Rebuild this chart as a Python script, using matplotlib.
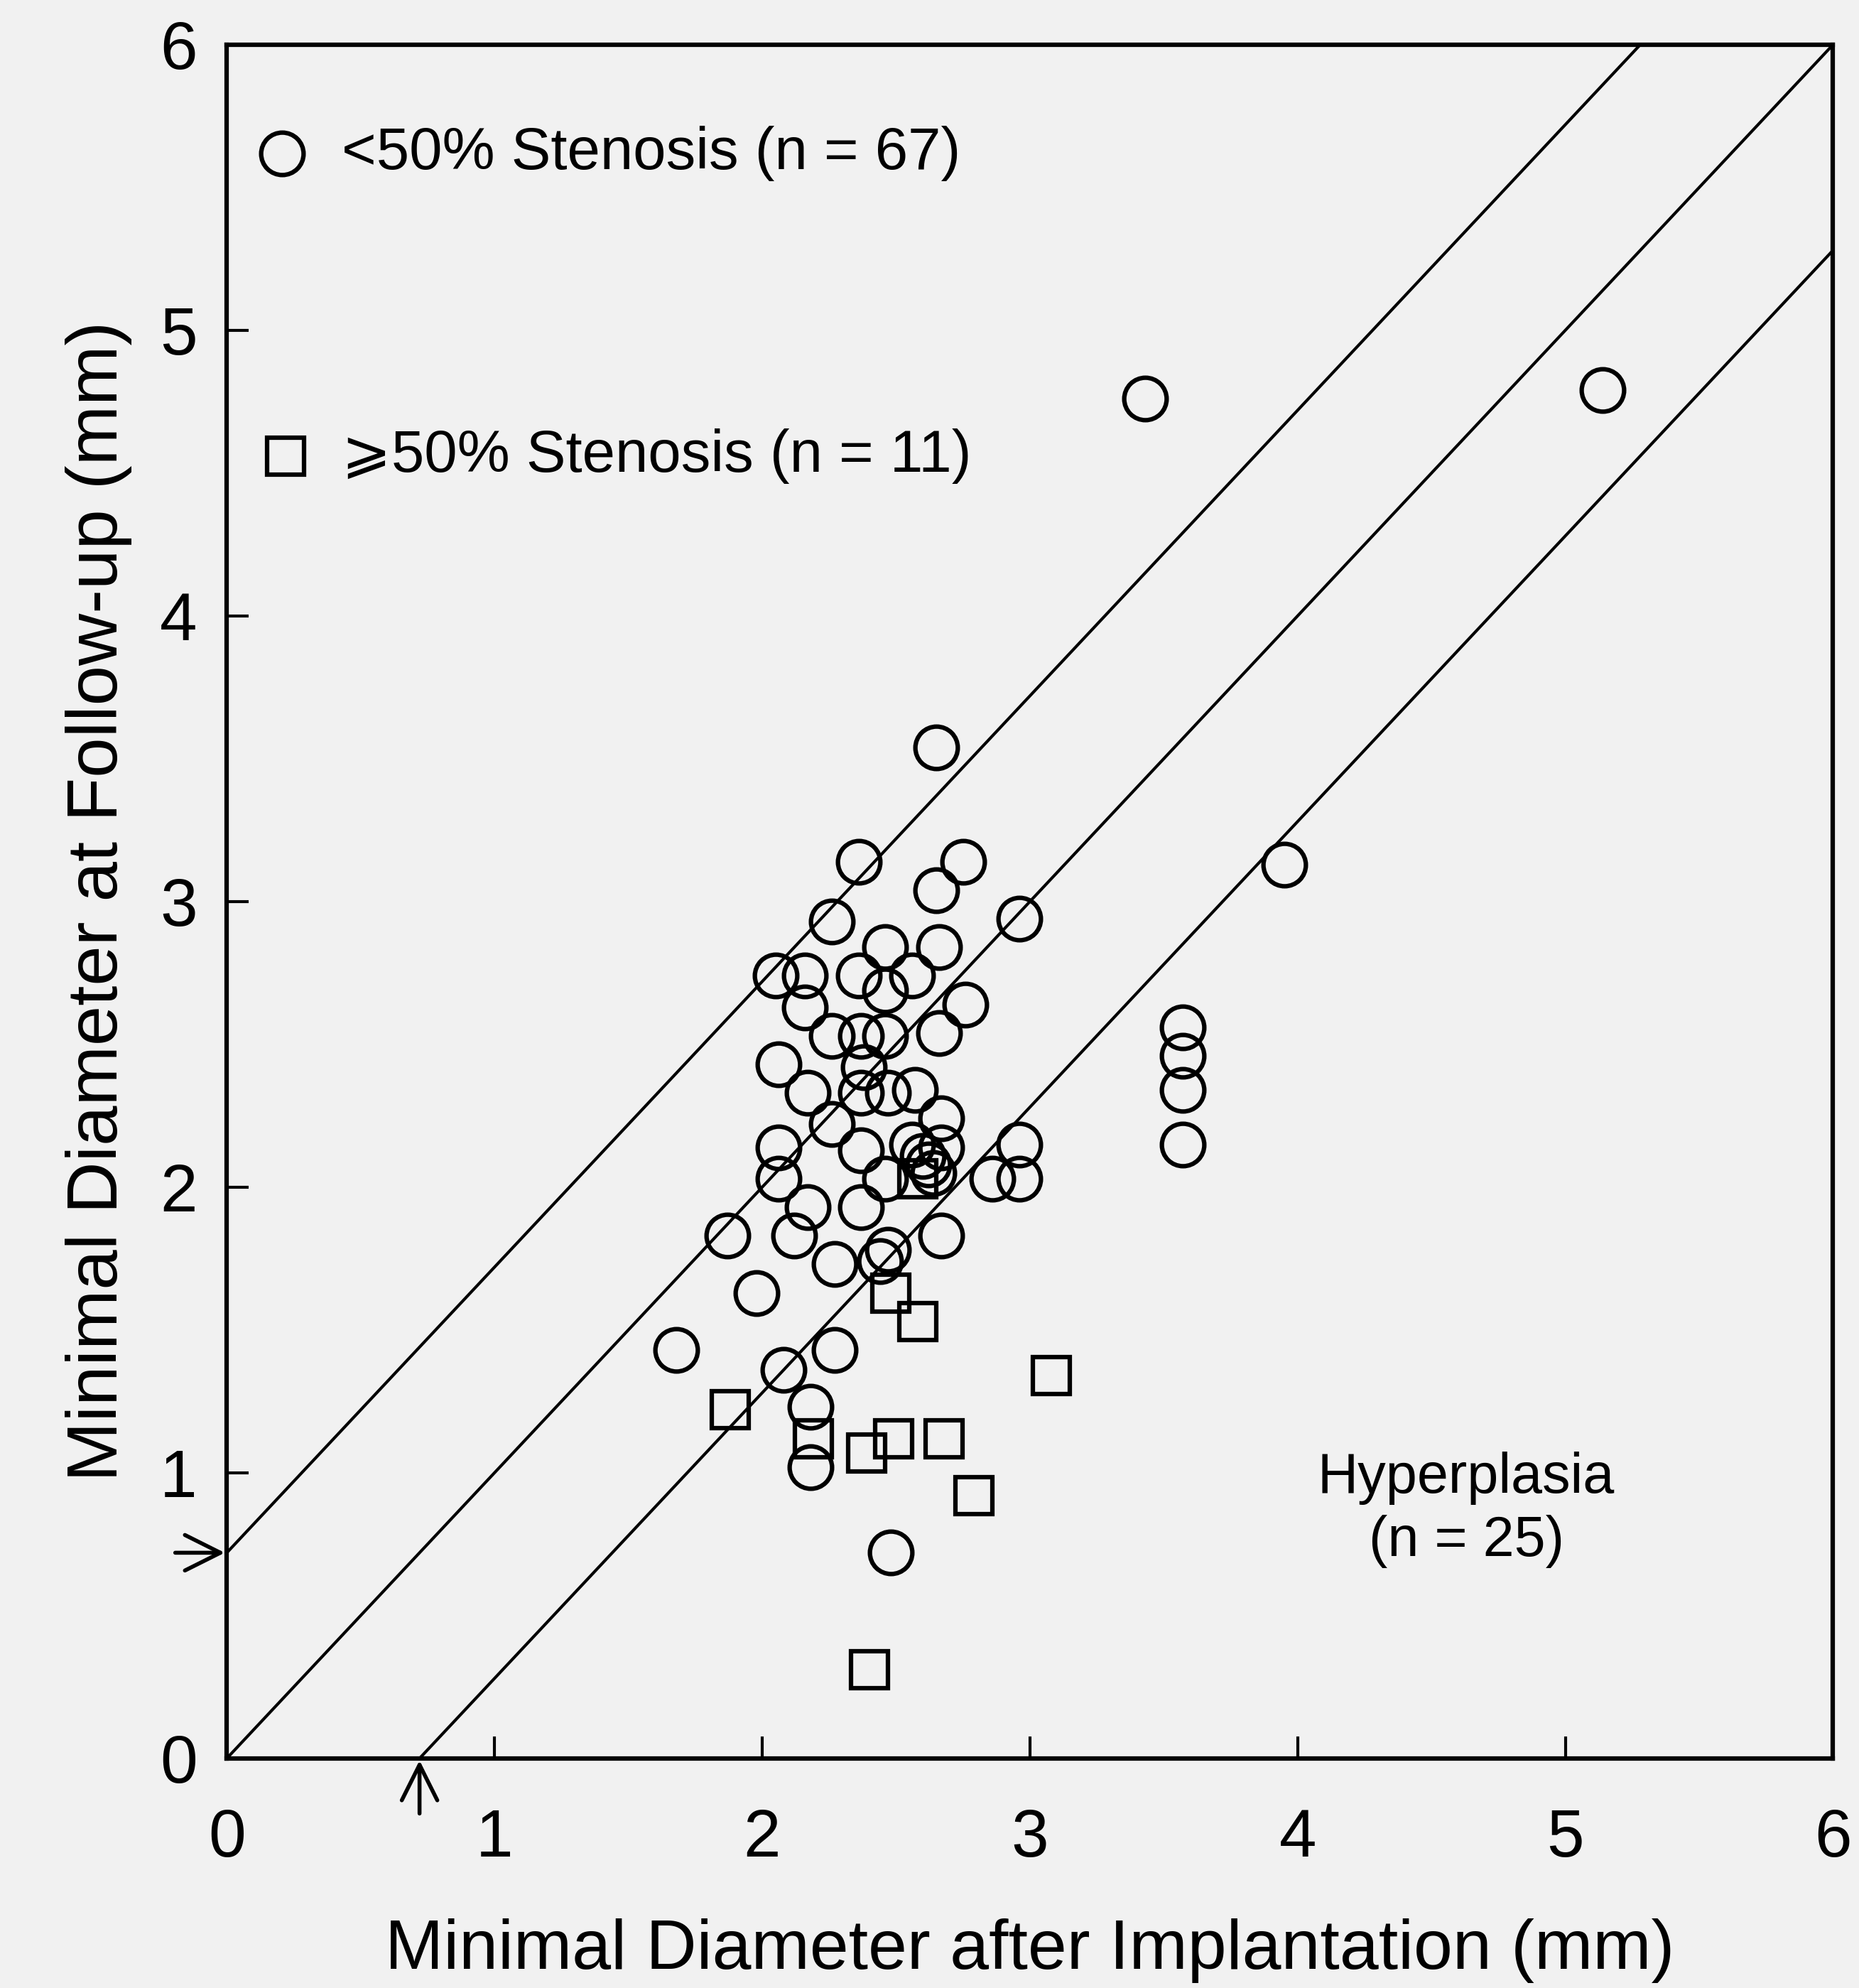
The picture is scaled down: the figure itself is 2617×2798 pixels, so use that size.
import matplotlib.pyplot as plt
import numpy as np

plt.rcParams['font.family'] = ['Liberation Sans', 'DejaVu Sans']

# <50% stenosis (circles)
circ_x = [3.43, 5.14, 2.65, 2.36, 2.75, 2.65, 3.95, 2.26, 2.96, 2.46,
          2.66, 2.05, 2.16, 2.36, 2.56, 2.46, 2.16, 2.76, 2.26, 2.37,
          2.46, 2.66, 3.57, 3.57, 3.57, 3.57, 2.06, 2.38, 2.17, 2.37,
          2.47, 2.57, 2.67, 2.26, 2.06, 2.37, 2.56, 2.67, 2.62, 2.96,
          2.46, 2.86, 2.96, 2.06, 2.17, 2.37, 1.87, 2.12, 2.67, 2.47,
          2.27, 2.44, 1.98, 1.68, 2.08, 2.27, 2.18, 2.18, 2.48, 2.60,
          2.64]
circ_y = [4.76, 4.79, 3.54, 3.14, 3.14, 3.04, 3.13, 2.93, 2.94, 2.84,
          2.84, 2.74, 2.74, 2.74, 2.74, 2.69, 2.63, 2.64, 2.53, 2.53,
          2.53, 2.54, 2.56, 2.46, 2.34, 2.15, 2.43, 2.42, 2.33, 2.33,
          2.33, 2.34, 2.24, 2.22, 2.14, 2.13, 2.15, 2.14, 2.08, 2.15,
          2.03, 2.03, 2.03, 2.03, 1.93, 1.93, 1.83, 1.83, 1.83, 1.78,
          1.73, 1.74, 1.63, 1.43, 1.36, 1.43, 1.23, 1.02, 0.72, 2.11,
          2.05]

# >=50% stenosis (squares)
sq_x = [1.88, 2.48, 2.58, 3.08, 2.19, 2.39, 2.49, 2.68, 2.79, 2.40, 2.58]
sq_y = [1.22, 1.63, 1.53, 1.34, 1.12, 1.07, 1.12, 1.12, 0.92, 0.31, 2.03]

# offset of the hyperplasia lines (mm)
offset = 0.72
ticks = [0, 1, 2, 3, 4, 5, 6]

bg = '#f1f1f1'
fig = plt.figure(figsize=(26.17, 27.98), dpi=100, facecolor=bg)
ax = fig.add_axes([0.122, 0.1155, 0.864, 0.862], facecolor=bg)

# diagonal reference lines
xx = np.array([0, 6])
ax.plot(xx, xx, color='black', lw=3)
ax.plot(xx, xx + offset, color='black', lw=3)
ax.plot(xx, xx - offset, color='black', lw=3)

ax.plot(circ_x, circ_y, 'o', ms=43, mfc='none', mec='black', mew=4.5)
ax.plot(sq_x, sq_y, 's', ms=37, mfc='none', mec='black', mew=4.5)

ax.set_xlim(0, 6)
ax.set_ylim(0, 6)
ax.set_xticks(ticks)
ax.set_yticks(ticks)
ax.tick_params(direction='in', length=22, width=3, labelsize=68)
ax.tick_params(axis='x', pad=50)
ax.tick_params(axis='y', pad=30)
for s in ax.spines.values():
    s.set_linewidth(4.5)

ax.set_xlabel('Minimal Diameter after Implantation (mm)', fontsize=71, labelpad=48)
ax.set_ylabel('Minimal Diameter at Follow-up (mm)', fontsize=73, labelpad=28)

# legend drawn by hand
ax.plot([0.205], [5.62], 'o', ms=43, mfc='none', mec='black', mew=4.5, clip_on=False)
ax.text(0.43, 5.62, '<50% Stenosis (n = 67)', fontsize=60, va='center')
ax.plot([0.22], [4.56], 's', ms=37, mfc='none', mec='black', mew=4.5, clip_on=False)
ax.text(0.43, 4.56, '\u2a7e50% Stenosis (n = 11)', fontsize=60, va='center')

ax.text(4.63, 0.87, 'Hyperplasia\n(n = 25)', fontsize=57, ha='center', va='center',
        linespacing=1.25)

# arrows marking the hyperplasia offset
arr = dict(arrowstyle='->', lw=4, color='black', mutation_scale=90)
ax.annotate('', xy=(0, offset), xytext=(-0.2, offset), arrowprops=arr,
            annotation_clip=False)
ax.annotate('', xy=(offset, 0), xytext=(offset, -0.2), arrowprops=arr,
            annotation_clip=False)

fig.savefig('out.png', dpi=100, facecolor=bg)
